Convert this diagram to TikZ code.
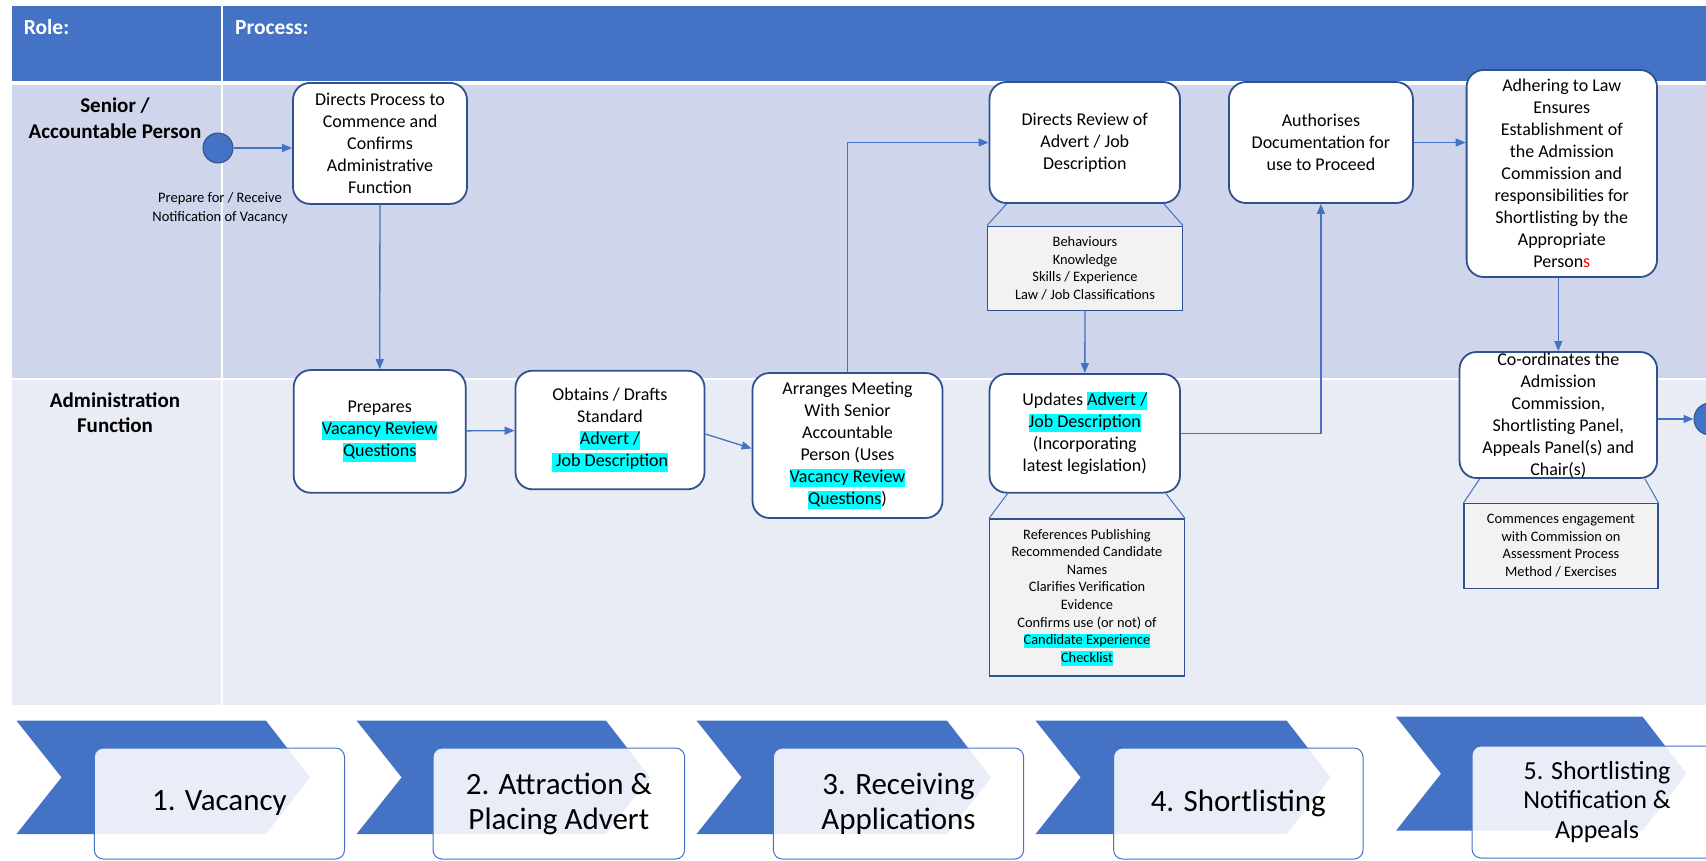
\documentclass[tikz,border=0pt]{standalone}
\usepackage{fontspec}
\setmainfont{Carlito}
\usetikzlibrary{arrows.meta,calc}
\definecolor{hdr}{HTML}{4472C4}
\definecolor{laneA}{HTML}{CFD5EA}
\definecolor{laneB}{HTML}{E9EBF5}
\definecolor{bdr}{HTML}{2F528F}
\definecolor{lnk}{HTML}{4472C4}
\definecolor{notegray}{HTML}{F2F2F2}
\definecolor{hlcyan}{HTML}{00FFFF}
\newcommand{\hlx}[1]{{\setlength{\fboxsep}{0pt}\colorbox{hlcyan}{\rule[-0.26em]{0pt}{1.02em}#1}}}
\begin{document}
\begin{tikzpicture}[x=1pt,y=-1pt,
  proc/.style={draw=bdr, line width=1.8pt, fill=white, rounded corners=17pt, align=center, inner sep=0pt, font=\fontsize{18}{22}\selectfont},
  notebox/.style={draw=bdr, line width=1.1pt, fill=notegray, align=center, inner sep=0pt, font=\fontsize{14.4}{17.6}\selectfont},
  flow/.style={draw=lnk, line width=1.3pt, -{Triangle[length=10pt,width=8pt]}},
  plainlink/.style={draw=lnk, line width=1pt},
  rolelbl/.style={font=\bfseries\fontsize{21}{25.5}\selectfont, align=center, inner sep=0pt},
  hdrlbl/.style={font=\bfseries\fontsize{21.5}{25}\selectfont, text=white, anchor=west, inner sep=0pt},
  evt/.style={circle, fill=lnk, draw=bdr, line width=1pt, minimum size=30pt, inner sep=0pt},
  stagebox/.style={draw=lnk, line width=1pt, fill=white, fill opacity=0.88, text opacity=1, rounded corners=9pt, align=center, inner sep=0pt, minimum height=111pt},
  chev/.style={fill=hdr}
]
\useasboundingbox (0,0) rectangle (1706,860);

% swimlane table
\fill[hdr] (11.5,6) rectangle (1706,81);
\fill[laneA] (11.5,85) rectangle (1706,378);
\fill[laneB] (11.5,380) rectangle (1706,705);
\draw[white, line width=2pt] (222,6) -- (222,705);

\node[hdrlbl] (hrole) at (23.7,27.5) {Role:};
\node[hdrlbl] (hproc) at (235,27.5) {Process:};
\node[rolelbl] (rsen) at (115,118) {Senior /\\Accountable Person};
\node[rolelbl] (radm) at (115,412.7) {Administration\\Function};

% events
\node[evt] (start) at (218,148) {};
\node[font=\fontsize{14.5}{19}\selectfont, align=center, inner sep=0pt] (startlbl) at (220,208) {Prepare for / Receive\\Notification of Vacancy};
\node[evt, minimum size=32pt] (endc) at (1710,419) {};

% process boxes
\node[proc, minimum width=174pt, minimum height=121pt] (dproc) at (380,143.4) {Directs Process to\\Commence and\\Confirms\\Administrative\\Function};
\node[proc, minimum width=172pt, minimum height=122.7pt] (prep) at (379.7,431.4) {Prepares\\\hlx{Vacancy Review}\\\hlx{Questions}};
\node[proc, minimum width=189pt, minimum height=118.6pt] (obt) at (610,430) {Obtains / Drafts\\Standard\\\hlx{Advert /}\\\hlx{\ Job Description}};
\node[proc, minimum width=190pt, minimum height=145pt] (arr) at (847.5,445.5) {Arranges Meeting\\With Senior\\Accountable\\Person (Uses\\\hlx{Vacancy Review}\\\hlx{Questions})};
\node[proc, minimum width=190.5pt, minimum height=121pt] (drev) at (1084.75,142.5) {Directs Review of\\Advert / Job\\Description};
\node[notebox, minimum width=195pt, minimum height=84.5pt] (beh) at (1085,268.4) {Behaviours\\Knowledge\\Skills / Experience\\Law / Job Classifications};
\node[proc, minimum width=190.5pt, minimum height=118.7pt] (upd) at (1084.75,433.3) {Updates \hlx{Advert /}\\\hlx{Job Description}\\(Incorporating\\latest legislation)};
\node[notebox, minimum width=195pt, minimum height=157pt] (refs) at (1087,597.5) {References Publishing\\Recommended Candidate\\Names\\Clarifies Verification\\Evidence\\Confirms use (or not) of\\\hlx{Candidate Experience}\\\hlx{Checklist}};
\node[proc, minimum width=184pt, minimum height=121pt] (auth) at (1320.9,142.5) {Authorises\\Documentation for\\use to Proceed};
\node[proc, minimum width=190.4pt, minimum height=207pt] (adh) at (1561.8,173.5) {Adhering to Law\\Ensures\\Establishment of\\the Admission\\Commission and\\responsibilities for\\Shortlisting by the\\Appropriate\\Person\textcolor{red}{s}};
\node[proc, minimum width=197.5pt, minimum height=126pt] (coord) at (1558.3,415) {Co-ordinates the\\Admission\\Commission,\\Shortlisting Panel,\\Appeals Panel(s) and\\Chair(s)};
\node[notebox, minimum width=194pt, minimum height=84.5pt] (comm) at (1561,545.8) {Commences engagement\\with Commission on\\Assessment Process\\Method / Exercises};

% connectors
\draw[flow] (start) -- (start -| dproc.west);
\draw[flow] (dproc) -- (prep);
\draw[flow] (prep) -- (obt);
\draw[flow] ($(obt.east)+(0,4)$) -- ($(arr.west)+(0,3)$);
\draw[flow] (arr.north) |- (drev.west);
\draw[plainlink] ($(drev.south west)+(18,0)$) -- (beh.north west);
\draw[plainlink] ($(drev.south east)+(-17,0)$) -- (beh.north east);
\draw[flow] (beh) -- (upd);
\draw[plainlink] ($(upd.south west)+(19,0)$) -- (refs.north west);
\draw[plainlink] ($(upd.south east)+(-15,0)$) -- (refs.north east);
\draw[flow] (upd.east) -| (auth.south);
\draw[flow] (auth.east) -- (auth.east -| adh.west);
\draw[flow] (coord.north |- adh.south) -- (coord.north);
\draw[plainlink] ($(coord.south west)+(21,0)$) -- (comm.north west);
\draw[plainlink] ($(coord.south east)+(-13,0)$) -- (comm.north east);
\draw[flow] (coord.east |- endc) -- (endc);

% stage chevrons
\foreach \L/\R/\T/\B in {16.5/266/720.7/834, 356.6/606/720.7/834, 696.6/947/720.7/834, 1035.6/1286.7/720.7/834, 1396/1642.6/716.7/830.7}{
  \fill[chev] (\L,\T) -- (\R,\T) -- ({\R+44},{(\T+\B)/2}) -- (\R,\B) -- (\L,\B) -- ({\L+45},{(\T+\B)/2}) -- cycle;
}
\node[stagebox, minimum width=250.2pt, font=\fontsize{31}{35}\selectfont] (s1) at (219.4,803.5) {1. Vacancy};
\node[stagebox, minimum width=251.6pt, font=\fontsize{31}{35}\selectfont] (s2) at (558.8,803.5) {2. Attraction \&\\Placing Advert};
\node[stagebox, minimum width=250.2pt, font=\fontsize{31}{35}\selectfont] (s3) at (898.5,803.5) {3. Receiving\\Applications};
\node[stagebox, minimum width=249.4pt, font=\fontsize{31}{35}\selectfont] (s4) at (1238.3,803.5) {4. Shortlisting};
\node[stagebox, minimum width=250pt, minimum height=112pt, font=\fontsize{26}{29.5}\selectfont] (s5) at (1597,802) {5. Shortlisting\\Notification \&\\Appeals};
\end{tikzpicture}
\end{document}
